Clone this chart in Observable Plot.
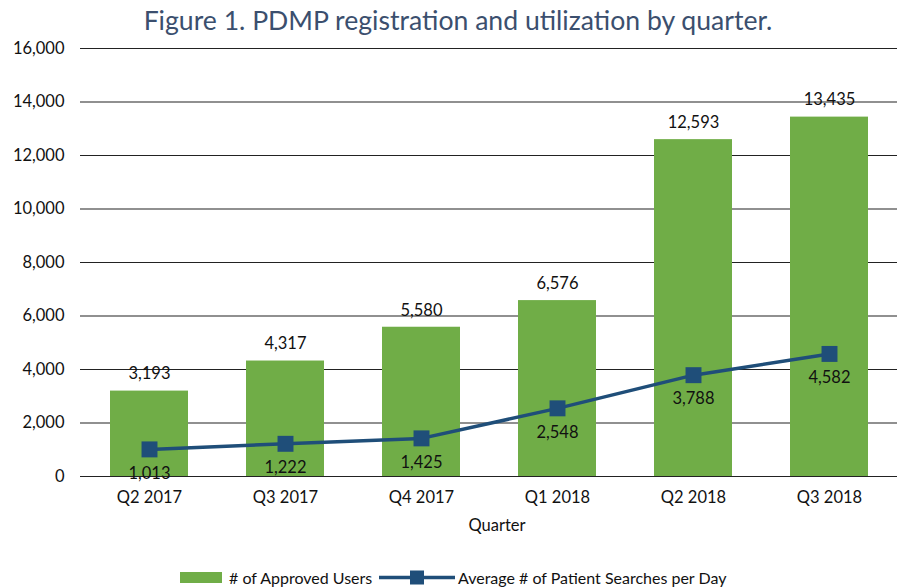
<!DOCTYPE html>
<html>
<head>
<meta charset="utf-8">
<script src="https://cdn.jsdelivr.net/npm/d3@7"></script>
<script src="https://cdn.jsdelivr.net/npm/@observablehq/plot@0.6"></script>
<style>
  html, body { margin: 0; padding: 0; background: #fff; }
  #wrap { position: relative; width: 904px; height: 588px; font-family: Lato, "Noto Sans", sans-serif; }
  #title { position: absolute; top: 4px; left: 0; width: 916px; text-align: center; font-size: 26.6px; font-weight: 400; color: #3B4F6E; }
  #legend { position: absolute; top: 566px; left: 0; width: 904px; color: #111; }
  #legend svg { position: absolute; top: 0; left: 0; }
</style>
</head>
<body>
<div id="wrap">
  <div id="title">Figure 1. PDMP registration and utilization by quarter.</div>
  <div id="chart"></div>
  <div id="legend"></div>
</div>
<script>
const quarters = ["Q2 2017", "Q3 2017", "Q4 2017", "Q1 2018", "Q2 2018", "Q3 2018"];
const approvedUsers = [3193, 4317, 5580, 6576, 12593, 13435];
const avgSearches = [1013, 1222, 1425, 2548, 3788, 4582];
const yTicks = [0, 2000, 4000, 6000, 8000, 10000, 12000, 14000, 16000];
const seriesNames = ["# of Approved Users", "Average # of Patient Searches per Day"];

const green = "#70AD47";
const blue = "#1F4E79";
const fmt = d3.format(",");
const fs = 16.5;

const data = quarters.map((q, i) => ({ q, users: approvedUsers[i], searches: avgSearches[i] }));

const chart = Plot.plot({
  width: 904,
  height: 588,
  marginTop: 48,
  marginBottom: 112,
  marginLeft: 80,
  marginRight: 7,
  style: { fontFamily: "Lato, 'Noto Sans', sans-serif", fontSize: fs + "px", color: "#111", background: "transparent" },
  x: { domain: quarters, paddingInner: 0.43, paddingOuter: 0.215, label: null },
  y: { domain: [0, 16000], ticks: yTicks, label: null },
  marks: [
    Plot.ruleY(yTicks, { stroke: "#222", strokeWidth: 1.2 }),
    Plot.barY(data, { x: "q", y: "users", fill: green }),
    Plot.ruleY([0], { stroke: "#222", strokeWidth: 1.2 }),
    Plot.text(data, { x: "q", y: "users", text: d => fmt(d.users), dy: -17, fill: "#111", fontSize: fs }),
    Plot.line(data, { x: "q", y: "searches", stroke: blue, strokeWidth: 3.5 }),
    Plot.dot(data, { x: "q", y: "searches", symbol: "square", r: 9, fill: blue, stroke: null }),
    Plot.text(data, { x: "q", y: "searches", text: d => fmt(d.searches), dy: 24, fill: "#111", fontSize: fs }),
    Plot.axisY({ ticks: yTicks, tickFormat: fmt, tickSize: 0, tickPadding: 16, fontSize: fs, label: null }),
    Plot.axisX({ tickSize: 0, tickPadding: 15, fontSize: fs, label: null }),
    Plot.text(["Quarter"], { frameAnchor: "bottom", dy: 54, fontSize: fs, fill: "#111", dx: 8 })
  ]
});
document.getElementById("chart").appendChild(chart);

// Legend
const lg = d3.select("#legend").append("svg").attr("width", 904).attr("height", 22)
  .style("font-family", "Lato, 'Noto Sans', sans-serif").style("font-size", "16px");
lg.append("rect").attr("x", 180).attr("y", 6).attr("width", 42).attr("height", 11).attr("fill", green);
lg.append("text").attr("x", 229).attr("y", 17.5).attr("fill", "#111").text(seriesNames[0]);
lg.append("line").attr("x1", 379).attr("x2", 455).attr("y1", 11.5).attr("y2", 11.5).attr("stroke", blue).attr("stroke-width", 3.5);
lg.append("rect").attr("x", 410).attr("y", 4.5).attr("width", 14).attr("height", 14).attr("fill", blue);
lg.append("text").attr("x", 458).attr("y", 17.5).attr("fill", "#111").text(seriesNames[1]);
</script>
</body>
</html>
